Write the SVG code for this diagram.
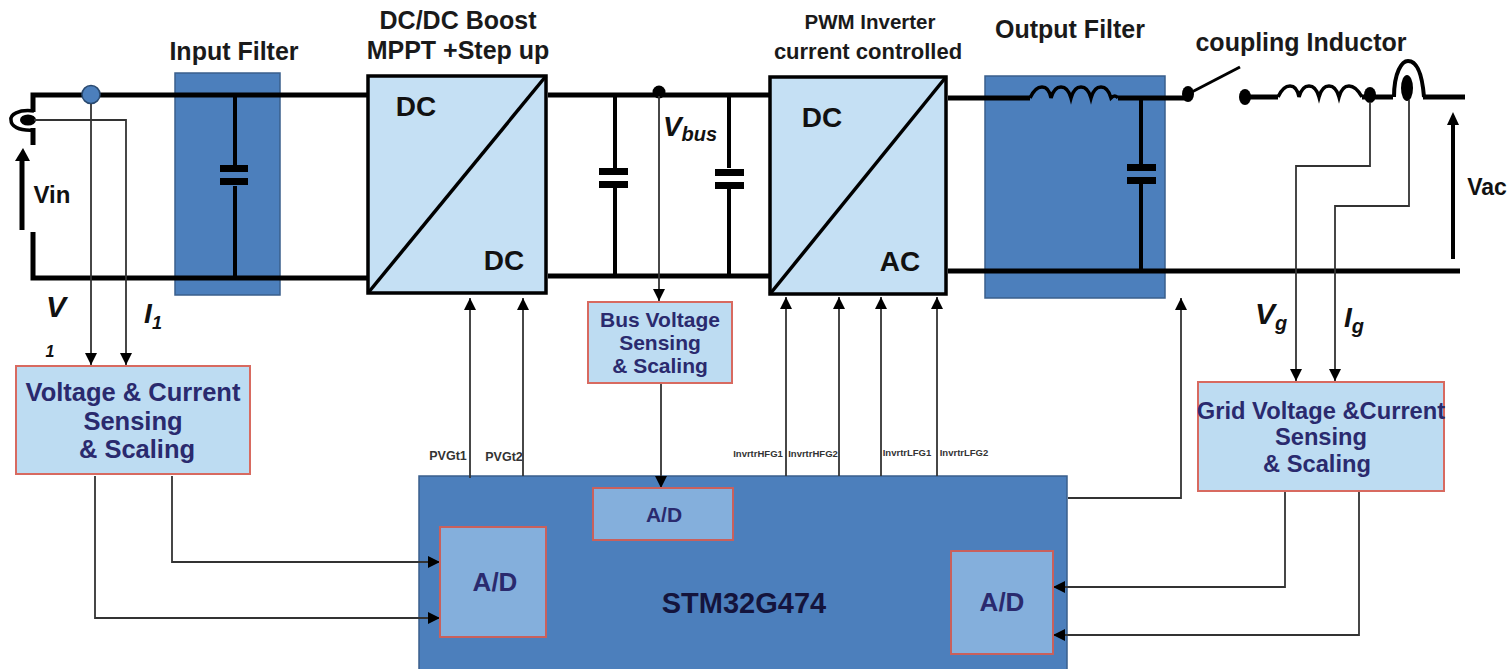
<svg xmlns="http://www.w3.org/2000/svg" width="1510" height="669" viewBox="0 0 1510 669">
<style>
text{font-family:"Liberation Sans",Arial,sans-serif;font-weight:bold;text-anchor:middle}
.t{fill:#1a1a1a;font-size:25px}
.n{fill:#2a2a6e}
.d{fill:#111;font-size:28px}
.pw{fill:none;stroke:#000;stroke-width:5}
.sg{fill:none;stroke:#333;stroke-width:1.8}
.sgm{fill:none;stroke:#333;stroke-width:1.8;marker-end:url(#a)}
.blue{fill:#4c7fbc;stroke:#3a5f8c;stroke-width:1.5}
.lt{fill:#c5e0f4;stroke:#000;stroke-width:3.5}
.sense{fill:#bddcf2;stroke:#d86a60;stroke-width:2}
.ad{fill:#84afdc;stroke:#c9605c;stroke-width:2}
.g{fill:#333;font-size:9.5px}
.i{font-style:italic;fill:#111}
</style>
<defs>
<marker id="a" markerUnits="userSpaceOnUse" markerWidth="13" markerHeight="12" refX="12" refY="6" orient="auto"><path d="M0 0L12 6L0 12z" fill="#000"/></marker>
</defs>
<rect width="1510" height="669" fill="#fff"/>
<g id="input-filter"><rect class="blue" x="175" y="73" width="105" height="222"/></g>
<g id="output-filter"><rect class="blue" x="985" y="76" width="180" height="222"/></g>
<g id="mcu"><rect class="blue" x="419" y="476" width="648" height="200"/><text x="744" y="613" font-size="29" fill="#14143c">STM32G474</text></g>
<g id="connectors">
<path class="pw" d="M33 112V95H368M548 95H770M948 98H1030M1118 98H1188M1247 97H1278M1362 97H1393M1423 97H1465"/>
<path class="pw" d="M33 145V128M33 232V278H368M548 276H770M948 271H1460"/>
<path class="pw" style="stroke-width:4" d="M235 96V170M235 186V277M615 96V168M615 188V275M729 96V168M729 188V275M1141 98V166M1141 184V272"/>
<path class="pw" style="stroke-width:3.500" d="M1030 98q5-11 12-11t9 11q3-11 10-11t10 11q3-11 10-11t10 11q3-11 10-11t10 11q4-4 7 0M1278 97q5-11 12-11t9 11q3-11 10-11t10 11q3-11 10-11t10 11q3-11 10-11t13 11"/>
<path d="M220 165H248V172H220zM220 178H248V185H220zM599 168H628V175H599zM599 181H628V188H599zM715 169H744V176H715zM715 182H744V189H715zM1127 164H1156V171H1127zM1127 177H1156V184H1127z" fill="#000"/>
<path class="pw" style="stroke-width:3" d="M1188 94L1240 67"/>
<ellipse cx="1188" cy="94" rx="6" ry="8"/><ellipse cx="1245" cy="97" rx="6" ry="8"/><ellipse cx="1370" cy="95" rx="6" ry="8"/><ellipse cx="1407" cy="88" rx="6" ry="13"/>
<path class="pw" style="stroke-width:4" d="M1394 97C1394 72 1402 61 1408 61C1416 61 1422 72 1424 97"/>
<ellipse cx="28" cy="120" rx="8" ry="5.500"/>
<path class="pw" style="stroke-width:3.500" d="M34 111C18 109 10 115 11 120C11 126 18 131 34 130"/>
<circle cx="91" cy="94.500" r="9" fill="#4c7fbc" stroke="#2a4a70" stroke-width="1.500"/>
<circle cx="659" cy="92" r="6.500"/>
<path class="pw" d="M22 230V158"/><path d="M15 161L23 148L30 161z"/>
<path class="pw" style="stroke-width:4" d="M1453 259V122"/><path d="M1447 125L1453 112L1459 125z"/>
<path class="sgm" d="M91 104V365"/>
<path class="sgm" d="M34 120H126V365"/>
<path class="sgm" d="M659 96V301"/>
<path class="sgm" d="M470 478V298"/><path class="sgm" d="M523 476V298"/>
<path class="sgm" d="M661 384V488"/>
<path class="sgm" d="M786 476V297"/><path class="sgm" d="M839 476V297"/><path class="sgm" d="M881 476V297"/><path class="sgm" d="M937 476V297"/>
<path class="sgm" d="M1068 498H1181V298"/>
<path class="sgm" d="M1370 102V166H1296V381"/><path class="sgm" d="M1409 100V206H1335V381"/>
<path class="sgm" d="M172 476V562H440"/><path class="sgm" d="M95 476V618H440"/>
<path class="sgm" d="M1285 492V587H1053"/><path class="sgm" d="M1359 492V635H1053"/>
</g>
<g id="boost"><rect class="lt" x="368" y="76" width="178" height="217"/><path d="M368 293L546 76" stroke="#000" stroke-width="3.500"/><text class="d" x="416" y="116">DC</text><text class="d" x="504" y="270">DC</text></g>
<g id="inverter"><rect class="lt" x="770" y="77" width="176" height="217"/><path d="M770 294L946 77" stroke="#000" stroke-width="3.500"/><text class="d" x="822" y="127">DC</text><text class="d" x="900" y="271">AC</text></g>
<g id="pv-sense"><rect class="sense" x="16" y="366" width="234" height="108"/><g class="n" font-size="25.500"><text x="133" y="401">Voltage &amp; Current</text><text x="133" y="430">Sensing</text><text x="137" y="458">&amp; Scaling</text></g></g>
<g id="bus-sense"><rect class="sense" x="588" y="302" width="144" height="81"/><g class="n" font-size="21"><text x="660" y="327">Bus Voltage</text><text x="660" y="350">Sensing</text><text x="660" y="373">&amp; Scaling</text></g></g>
<g id="grid-sense"><rect class="sense" x="1198" y="382" width="246" height="109"/><g class="n" font-size="23.700"><text x="1321" y="419">Grid Voltage &amp;Current</text><text x="1321" y="445">Sensing</text><text x="1317" y="472">&amp; Scaling</text></g></g>
<g id="ad-left"><rect class="ad" x="440" y="527" width="106" height="110"/><text class="n" x="495" y="591" font-size="26">A/D</text></g>
<g id="ad-top"><rect class="ad" x="593" y="488" width="140" height="52"/><text class="n" x="664" y="522" font-size="21">A/D</text></g>
<g id="ad-right"><rect class="ad" x="951" y="551" width="102" height="103"/><text class="n" x="1002" y="611" font-size="26">A/D</text></g>
<g id="labels">
<text class="t" x="234" y="60">Input Filter</text>
<text class="t" x="458" y="29">DC/DC Boost</text><text class="t" x="458" y="59">MPPT +Step up</text>
<text class="t" x="870" y="29" style="font-size:20.500px">PWM Inverter</text><text class="t" x="868" y="59" style="font-size:22px">current controlled</text>
<text class="t" x="1070" y="38">Output Filter</text>
<text class="t" x="1301" y="51">coupling Inductor</text>
<text x="52" y="203" font-size="24" fill="#111">Vin</text>
<text x="1487" y="195" font-size="23" fill="#111">Vac</text>
<text class="i" x="56" y="317" font-size="30">V</text><text class="i" x="50" y="357" font-size="16">1</text>
<text class="i" x="153" y="323" font-size="28">I<tspan font-size="18" dy="6">1</tspan></text>
<text class="i" x="690" y="136" font-size="28">V<tspan font-size="20" dy="5">bus</tspan></text>
<text class="i" x="1271" y="324" font-size="30">V<tspan font-size="20" dy="6">g</tspan></text>
<text class="i" x="1354" y="327" font-size="28">I<tspan font-size="20" dy="6">g</tspan></text>
<text class="g" x="448" y="460" style="font-size:12.500px">PVGt1</text><text class="g" x="504" y="461" style="font-size:12.500px">PVGt2</text>
<text class="g" x="758" y="457">InvrtrHFG1</text><text class="g" x="813" y="457">InvrtrHFG2</text><text class="g" x="907" y="456">InvrtrLFG1</text><text class="g" x="964" y="456">InvrtrLFG2</text>
</g>
</svg>
